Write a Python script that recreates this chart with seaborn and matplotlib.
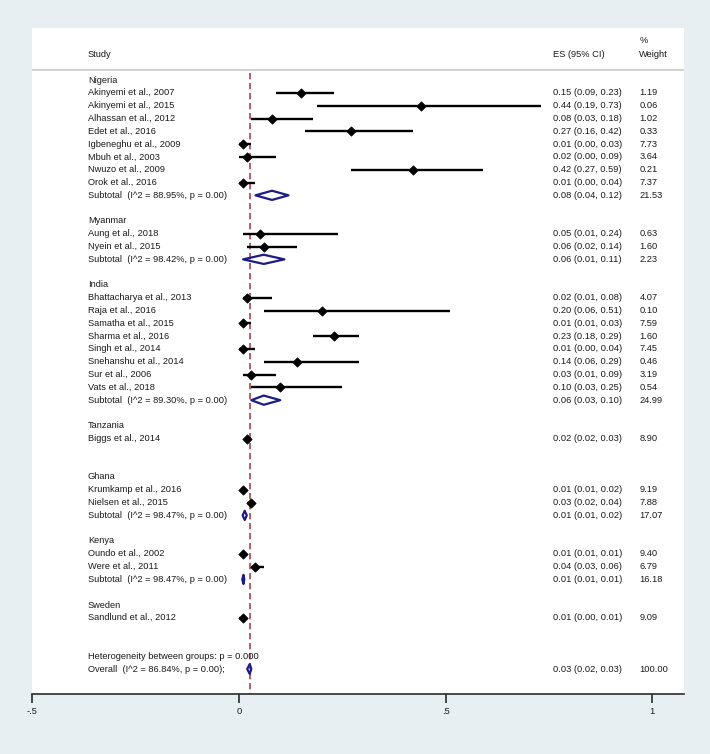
import numpy as np
import pandas as pd
import matplotlib
matplotlib.use('Agg')
import matplotlib.pyplot as plt
from matplotlib.patches import Polygon
import seaborn as sns

# study level data
groups = ['Nigeria', 'Myanmar', 'India', 'Tanzania', 'Ghana', 'Kenya', 'Sweden']
study = ['Akinyemi et al., 2007', 'Akinyemi et al., 2015', 'Alhassan et al., 2012', 'Edet et al., 2016',
         'Igbeneghu et al., 2009', 'Mbuh et al., 2003', 'Nwuzo et al., 2009', 'Orok et al., 2016',
         'Aung et al., 2018', 'Nyein et al., 2015',
         'Bhattacharya et al., 2013', 'Raja et al., 2016', 'Samatha et al., 2015', 'Sharma et al., 2016',
         'Singh et al., 2014', 'Snehanshu et al., 2014', 'Sur et al., 2006', 'Vats et al., 2018',
         'Biggs et al., 2014',
         'Krumkamp et al., 2016', 'Nielsen et al., 2015',
         'Oundo et al., 2002', 'Were et al., 2011',
         'Sandlund et al., 2012']
study_group = ['Nigeria'] * 8 + ['Myanmar'] * 2 + ['India'] * 8 + ['Tanzania'] + ['Ghana'] * 2 + ['Kenya'] * 2 + ['Sweden']
es = [0.15, 0.44, 0.08, 0.27, 0.01, 0.02, 0.42, 0.01,
      0.05, 0.06,
      0.02, 0.20, 0.01, 0.23, 0.01, 0.14, 0.03, 0.10,
      0.02,
      0.01, 0.03,
      0.01, 0.04,
      0.01]
lo = [0.09, 0.19, 0.03, 0.16, 0.00, 0.00, 0.27, 0.00,
      0.01, 0.02,
      0.01, 0.06, 0.01, 0.18, 0.00, 0.06, 0.01, 0.03,
      0.02,
      0.01, 0.02,
      0.01, 0.03,
      0.00]
hi = [0.23, 0.73, 0.18, 0.42, 0.03, 0.09, 0.59, 0.04,
      0.24, 0.14,
      0.08, 0.51, 0.03, 0.29, 0.04, 0.29, 0.09, 0.25,
      0.03,
      0.02, 0.04,
      0.01, 0.06,
      0.01]
weight = [1.19, 0.06, 1.02, 0.33, 7.73, 3.64, 0.21, 7.37,
          0.63, 1.60,
          4.07, 0.10, 7.59, 1.60, 7.45, 0.46, 3.19, 0.54,
          8.90,
          9.19, 7.88,
          9.40, 6.79,
          9.09]

# subtotals (only for groups with more than one study)
sub_group = ['Nigeria', 'Myanmar', 'India', 'Ghana', 'Kenya']
sub_i2 = [88.95, 98.42, 89.30, 98.47, 98.47]
sub_es = [0.08, 0.06, 0.06, 0.014, 0.011]
sub_lo = [0.04, 0.01, 0.03, 0.009, 0.008]
sub_hi = [0.12, 0.11, 0.10, 0.019, 0.013]
sub_weight = [21.53, 2.23, 24.99, 17.07, 16.18]

overall_i2 = 86.84
overall_es = 0.026
overall_lo = 0.02
overall_hi = 0.03
overall_weight = 100.00
het_p = '0.000'

xticks = [-0.5, 0, 0.5, 1]
xticklabels = ['-.5', '0', '.5', '1']

df = pd.DataFrame({'study': study, 'group': study_group, 'es': es, 'lo': lo, 'hi': hi, 'weight': weight})
sub = pd.DataFrame({'group': sub_group, 'i2': sub_i2, 'es': sub_es, 'lo': sub_lo, 'hi': sub_hi, 'weight': sub_weight})

# row layout: group header, studies, subtotal slot, blank
rows = {}
group_rows = {}
sub_rows = {}
r = 0
for g in groups:
    group_rows[g] = r
    r += 1
    for idx in df.index[df.group == g]:
        rows[idx] = r
        r += 1
    sub_rows[g] = r
    r += 2
het_row = r
overall_row = r + 1
df['row'] = df.index.map(rows)
sub['row'] = sub.group.map(sub_rows)

sns.set_style('white')
plt.rcParams['font.family'] = ['Liberation Sans', 'DejaVu Sans']
fs = 6.7
txt_col = '#1a1a1a'
navy = '#1c1c84'

fig = plt.figure(figsize=(7.1, 7.54), dpi=100)
fig.patch.set_facecolor('#e8eff2')
ax = fig.add_axes([0.0455, 0.0796, 0.9179, 0.8829])
ax.set_facecolor('white')
ax.set_xlim(-0.5, 1.077)
ax.set_ylim(47.95, -4.05)

x_study, x_es, x_wt = -0.3656, 0.7596, 0.969

# header
ax.text(x_study, -2.0, 'Study', fontsize=fs, va='center', color=txt_col)
ax.text(x_es, -2.0, 'ES (95% CI)', fontsize=fs, va='center', color=txt_col)
ax.text(x_wt, -3.06, '%', fontsize=fs, va='center', color=txt_col)
ax.text(x_wt, -2.0, 'Weight', fontsize=fs, va='center', color=txt_col)
ax.axhline(-0.8, color='#c4c4c4', lw=1.1)

# reference line at overall estimate
ax.plot([overall_es, overall_es], [-0.55, 47.95], color='#a8424e', lw=1.2, ls=(0, (3.8, 2.2)), zorder=1)

# study CIs and points
ax.hlines(df.row, df.lo, df.hi, color='black', lw=1.7, zorder=2)
sns.scatterplot(data=df, x='es', y='row', marker='D', color='black', s=22, edgecolor='black',
                linewidth=0.6, ax=ax, zorder=3, legend=False)

for _, d in df.iterrows():
    ax.text(x_study, d.row, d.study, fontsize=fs, va='center', color=txt_col)
    ax.text(x_es, d.row, f'{d.es:.2f} ({d.lo:.2f}, {d.hi:.2f})', fontsize=fs, va='center', color=txt_col)
    ax.text(x_wt, d.row, f'{d.weight:.2f}', fontsize=fs, va='center', color=txt_col)

for g in groups:
    ax.text(x_study, group_rows[g], g, fontsize=fs, va='center', color=txt_col)


def diamond(e, l, h, y, hh=0.36):
    ax.add_patch(Polygon([(l, y), (e, y - hh), (h, y), (e, y + hh)], closed=True,
                         facecolor='none', edgecolor=navy, lw=1.6, joinstyle='round', zorder=4))


for _, s_ in sub.iterrows():
    diamond(s_.es, s_.lo, s_.hi, s_.row)
    ax.text(x_study, s_.row, f'Subtotal  (I^2 = {s_.i2:.2f}%, p = 0.00)', fontsize=fs, va='center', color=txt_col)
    ax.text(x_es, s_.row, f'{s_.es:.2f} ({s_.lo:.2f}, {s_.hi:.2f})', fontsize=fs, va='center', color=txt_col)
    ax.text(x_wt, s_.row, f'{s_.weight:.2f}', fontsize=fs, va='center', color=txt_col)

ax.text(x_study, het_row, f'Heterogeneity between groups: p = {het_p}', fontsize=fs, va='center', color=txt_col)
ax.text(x_study, overall_row, f'Overall  (I^2 = {overall_i2:.2f}%, p = 0.00);', fontsize=fs, va='center', color=txt_col)
diamond(overall_es, overall_lo, overall_hi, overall_row, hh=0.38)
ax.text(x_es, overall_row, f'{overall_es:.2f} ({overall_lo:.2f}, {overall_hi:.2f})', fontsize=fs, va='center', color=txt_col)
ax.text(x_wt, overall_row, f'{overall_weight:.2f}', fontsize=fs, va='center', color=txt_col)

# axis styling
for side in ['top', 'left', 'right']:
    ax.spines[side].set_visible(False)
ax.spines['bottom'].set_color('#2b2b2b')
ax.spines['bottom'].set_linewidth(1.2)
ax.set_yticks([])
ax.set_xticks(xticks)
ax.set_xticklabels(xticklabels)
ax.tick_params(axis='x', direction='out', length=6.5, width=1.2, color='#2b2b2b', pad=3,
               labelsize=fs, labelcolor=txt_col, bottom=True)
ax.set_xlabel('')
ax.set_ylabel('')

plt.savefig('out.png', dpi=100, facecolor=fig.get_facecolor())
plt.close()
